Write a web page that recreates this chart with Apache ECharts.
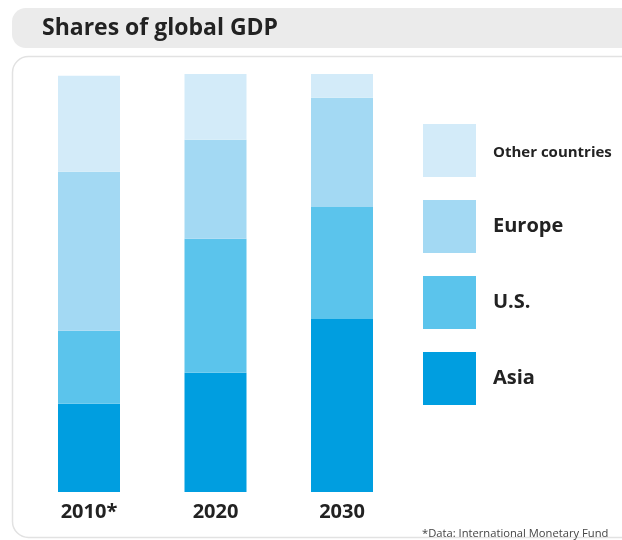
<!DOCTYPE html>
<html>
<head>
<meta charset="utf-8">
<script src="https://cdn.jsdelivr.net/npm/echarts@6/dist/echarts.min.js"></script>
<style>
html,body{margin:0;padding:0;background:#fff;}
#chart{width:622px;height:540px;}
</style>
</head>
<body>
<div id="chart"></div>
<script>
var categories = ['2010*', '2020', '2030'];
var asia = [21.1, 28.5, 41.4];
var us = [17.5, 32.1, 26.8];
var europe = [38.0, 23.7, 26.1];
var other = [23.0, 15.8, 5.7];
var legendOrder = ['Other countries', 'Europe', 'U.S.', 'Asia'];
var titleText = 'Shares of global GDP';
var footnote = '*Data: International Monetary Fund';

var FONT = '"Open Sans", sans-serif';
var chart = echarts.init(document.getElementById('chart'), null, {renderer: 'canvas'});

function bar(name, data, color) {
  return {
    name: name, type: 'bar', stack: 'gdp', data: data, barWidth: 62,
    itemStyle: {color: color}, emphasis: {disabled: true}
  };
}

chart.setOption({
  animation: false,
  backgroundColor: '#ffffff',
  graphic: [
    {type: 'rect', z: -10, shape: {x: 12, y: 8, width: 660, height: 40, r: [14, 0, 0, 14]},
     style: {fill: '#ebebeb'}},
    {type: 'rect', z: -10, shape: {x: 12.5, y: 56.5, width: 660, height: 481, r: [16, 0, 0, 16]},
     style: {fill: '#ffffff', stroke: '#e2e2e2', lineWidth: 1.5}},
    {type: 'text', left: 42, top: 17, z: 10,
     style: {text: titleText, font: 'bold 23px ' + FONT, fill: '#222222'}},
    {type: 'text', left: 422, top: 528, z: 10,
     style: {text: footnote, font: '11.2px ' + FONT, fill: '#444444'}}
  ],
  grid: {left: 25.75, width: 379.5, top: 74, height: 418, containLabel: false},
  xAxis: {
    type: 'category', data: categories,
    axisLine: {show: false}, axisTick: {show: false},
    axisLabel: {margin: 10, fontFamily: FONT, fontWeight: 'bold', fontSize: 20, color: '#222222'}
  },
  yAxis: {type: 'value', min: 0, max: 100, show: false},
  legend: {
    data: legendOrder, orient: 'vertical', left: 423, top: 124, padding: 0,
    itemWidth: 53, itemHeight: 53, itemGap: 23, icon: 'rect',
    selectedMode: false,
    formatter: function (n) { return n === 'Other countries' ? '{s|' + n + '}' : '{b|' + n + '}'; },
    textStyle: {
      fontFamily: FONT, fontWeight: 'bold', color: '#222222', fontSize: 18,
      rich: {
        s: {fontFamily: FONT, fontWeight: 'bold', fontSize: 15, color: '#222222', padding: [4, 0, 0, 12]},
        b: {fontFamily: FONT, fontWeight: 'bold', fontSize: 20, color: '#222222', padding: [0, 0, 0, 12]}
      }
    }
  },
  series: [
    bar('Asia', asia, '#009ee0'),
    bar('U.S.', us, '#5bc4ec'),
    bar('Europe', europe, '#a3d9f3'),
    bar('Other countries', other, '#d3ebf9')
  ]
});
</script>
</body>
</html>
